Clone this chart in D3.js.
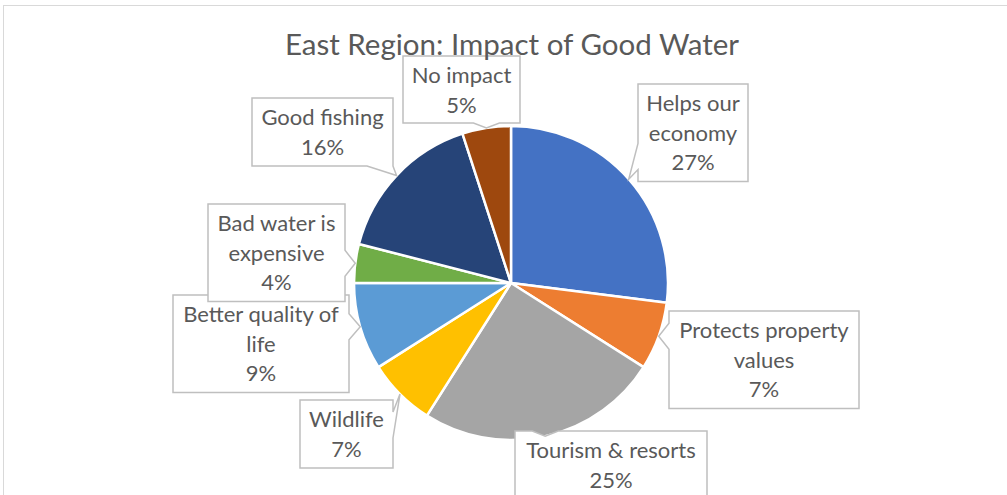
<!DOCTYPE html>
<html>
<head>
<meta charset="utf-8">
<script src="https://cdn.jsdelivr.net/npm/d3@7"></script>
<style>
  html, body { margin: 0; padding: 0; background: #ffffff; }
  svg { display: block; }
</style>
</head>
<body>
<svg id="chart" width="1007" height="495"></svg>
<script>
// Survey answers, percent of respondents
const categories = [
  "Helps our economy", "Protects property values", "Tourism & resorts", "Wildlife",
  "Better quality of life", "Bad water is expensive", "Good fishing", "No impact"
];
const values = [27, 7, 25, 7, 9, 4, 16, 5];
// How each category name wraps inside its callout
const labelLines = [
  ["Helps our", "economy"], ["Protects property", "values"], ["Tourism & resorts"], ["Wildlife"],
  ["Better quality of", "life"], ["Bad water is", "expensive"], ["Good fishing"], ["No impact"]
];
const colors = ["#4472C4", "#ED7D31", "#A5A5A5", "#FFC000", "#5B9BD5", "#70AD47", "#264478", "#9E480E"];
const title = "East Region: Impact of Good Water";

// Callout box placement (left, top, width)
const boxLayout = [
  [638, 84, 110], [669, 311, 190], [515, 431, 192], [300, 400, 93],
  [173, 295, 176], [208, 204, 137], [252, 98, 141], [403, 56, 117]
];

const svg = d3.select("#chart");
const W = 1007, H = 495;
const cx = 511, cy = 283, R = 157;
const lineStep = 29.5;
const font = "Lato, 'Open Sans', sans-serif";

// chart area frame
svg.append("rect")
  .attr("x", 3.5).attr("y", 5.5).attr("width", W + 10).attr("height", H + 10)
  .attr("fill", "#ffffff").attr("stroke", "#d9d9d9").attr("stroke-width", 1);

const data = categories.map((c, i) => ({ name: c, value: values[i], lines: labelLines[i], color: colors[i], i }));

const pie = d3.pie().value(d => d.value).sort(null);
const arcs = pie(data);
const arc = d3.arc().innerRadius(0).outerRadius(R);
const rim = d3.arc().innerRadius(R).outerRadius(R);

const g = svg.append("g").attr("transform", `translate(${cx},${cy})`);
g.selectAll("path.slice")
  .data(arcs)
  .join("path")
  .attr("class", "slice")
  .attr("d", arc)
  .attr("fill", d => d.data.color)
  .attr("stroke", "#ffffff")
  .attr("stroke-width", 2.5)
  .attr("stroke-linejoin", "round");

// callout outline: rectangle with a wedge on the side facing the slice
function calloutPath(x, y, w, h, tx, ty) {
  const over = {
    left: x - tx, right: tx - (x + w), top: y - ty, bottom: ty - (y + h)
  };
  let side = "left", best = -Infinity;
  for (const k of ["right", "left", "bottom", "top"]) {
    if (over[k] > best) { best = over[k]; side = k; }
  }
  const hw = 13, margin = 25;
  const clamp = (v, a, b) => Math.max(a, Math.min(b, v));
  let p;
  if (side === "left" || side === "right") {
    const c = clamp(ty, y + margin, y + h - margin);
    const a = Math.max(y, c - hw), b = Math.min(y + h, c + hw);
    if (side === "left") {
      p = [[x, y], [x + w, y], [x + w, y + h], [x, y + h], [x, b], [tx, ty], [x, a]];
    } else {
      p = [[x, y], [x + w, y], [x + w, a], [tx, ty], [x + w, b], [x + w, y + h], [x, y + h]];
    }
  } else {
    const c = clamp(tx, x + margin, x + w - margin);
    let a = Math.max(x, c - hw), b = Math.min(x + w, c + hw);
    if (tx > x + w) { b = x + w; a = b - 2 * hw; }
    if (tx < x) { a = x; b = a + 2 * hw; }
    if (side === "top") {
      p = [[x, y], [a, y], [tx, ty], [b, y], [x + w, y], [x + w, y + h], [x, y + h]];
    } else {
      p = [[x, y], [x + w, y], [x + w, y + h], [b, y + h], [tx, ty], [a, y + h], [x, y + h]];
    }
  }
  return "M" + p.map(q => q.join(",")).join("L") + "Z";
}

const labels = svg.append("g").attr("class", "labels");
arcs.forEach(d => {
  const [bx, by, bw] = boxLayout[d.data.i];
  const lines = d.data.lines.concat([d.data.value + "%"]);
  const bh = lines.length * lineStep + 9 - (d.data.i === 7 ? 1 : 0);
  const [px, py] = rim.centroid(d);
  const tx = cx + px, ty = cy + py;
  const grp = labels.append("g");
  grp.append("path")
    .attr("d", calloutPath(bx, by, bw, bh, tx, ty))
    .attr("fill", "#ffffff")
    .attr("stroke", "#bfbfbf")
    .attr("stroke-width", 1.5)
    .attr("stroke-linejoin", "miter");
  const t = grp.append("text")
    .attr("text-anchor", "middle")
    .attr("font-family", font)
    .attr("font-size", 22)
    .attr("fill", "#595959");
  lines.forEach((ln, k) => {
    t.append("tspan")
      .attr("x", bx + bw / 2)
      .attr("y", by + 27 + k * lineStep)
      .text(ln);
  });
});

svg.append("text")
  .attr("x", 512).attr("y", 55)
  .attr("text-anchor", "middle")
  .attr("font-family", font)
  .attr("font-size", 29.5)
  .attr("fill", "#595959")
  .text(title);
</script>
</body>
</html>
